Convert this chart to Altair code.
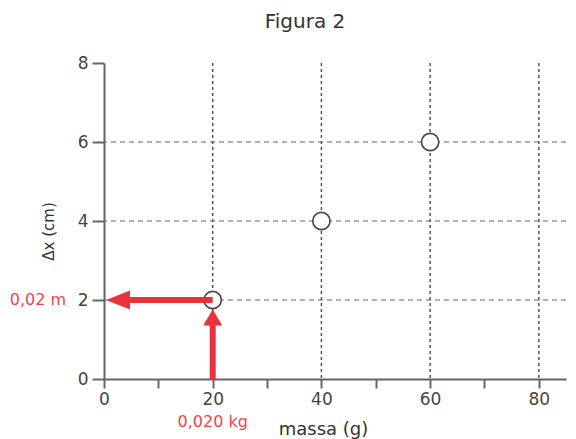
import altair as alt
import pandas as pd

# data
massa = [20, 40, 60]
dx_cm = [2, 4, 6]
grid_x = [20, 40, 60, 80]
grid_y = [2, 4, 6]
x_ticks = [0, 10, 20, 30, 40, 50, 60, 70, 80]
y_ticks = [0, 1, 2, 3, 4, 5, 6, 7, 8]
# arrow shafts (data units)
shaft_x = [20, 20]
shaft_x2 = [20, 4.5]
shaft_y = [0, 2]
shaft_y2 = [1.45, 2]
# arrow heads
head_up = {"x": [20], "y": [1.56]}
head_left = {"x": [2.58], "y": [2]}
labels_txt = ["0,02 m", "0,020 kg"]

RED = "#e8323c"
LRED = "#ee4452"
FONT = "DejaVu Sans"

xs = alt.Scale(domain=[0, 85], nice=False, zero=True)
ys = alt.Scale(domain=[0, 8], nice=False, zero=True)

xaxis = alt.Axis(values=x_ticks, labelExpr="datum.value % 20 == 0 ? datum.label : ''",
                 grid=False, tickSize=9, tickWidth=2, tickColor="#666", domainColor="#666",
                 domainWidth=2, labelFont=FONT, labelFontSize=17, labelColor="#444",
                 labelPadding=3, labelFlush=False, labelOverlap=False,
                 title="massa (g)", titleFont=FONT, titleFontSize=18, titleFontWeight="normal",
                 titleColor="#333", titleX=219, titleY=50, titleAlign="center",
                 titleBaseline="middle")
yaxis = alt.Axis(values=y_ticks, labelExpr="datum.value % 2 == 0 ? datum.label : ''",
                 grid=False, tickSize=12, tickWidth=2, tickColor="#666", domainColor="#666",
                 domainWidth=2, labelFont=FONT, labelFontSize=17, labelColor="#444",
                 labelPadding=4, labelFlush=False, labelOverlap=False,
                 title="Δx (cm)", titleFont=FONT, titleFontSize=15, titleFontWeight="normal",
                 titleColor="#333", titleX=-56, titleY=168, titleAlign="center",
                 titleBaseline="middle")

pts = pd.DataFrame({"massa": massa, "dx": dx_cm})

base = alt.Chart(pts).mark_point(opacity=0).encode(
    x=alt.X("massa:Q", scale=xs, axis=xaxis),
    y=alt.Y("dx:Q", scale=ys, axis=yaxis),
)

vgrid = alt.Chart(pd.DataFrame({"x": grid_x})).mark_rule(
    strokeDash=[3, 3], color="#555", strokeWidth=1.5
).encode(x=alt.X("x:Q", scale=xs))
hgrid = alt.Chart(pd.DataFrame({"y": grid_y})).mark_rule(
    strokeDash=[5, 4], color="#666", strokeWidth=1.2
).encode(y=alt.Y("y:Q", scale=ys))

circles = alt.Chart(pts).mark_circle(
    color="white", stroke="#444", strokeWidth=1.6, size=300, opacity=1
).encode(x=alt.X("massa:Q", scale=xs), y=alt.Y("dx:Q", scale=ys))

shafts = alt.Chart(pd.DataFrame({"x": shaft_x, "x2": shaft_x2, "y": shaft_y, "y2": shaft_y2})).mark_rule(
    color=RED, strokeWidth=6
).encode(x=alt.X("x:Q", scale=xs), x2="x2:Q", y=alt.Y("y:Q", scale=ys), y2="y2:Q")

hu = alt.Chart(pd.DataFrame(head_up)).mark_point(
    shape="M0,-0.85L1,0.85L-1,0.85Z", filled=True, color=RED, size=361, opacity=1
).encode(x=alt.X("x:Q", scale=xs), y=alt.Y("y:Q", scale=ys))
hl = alt.Chart(pd.DataFrame(head_left)).mark_point(
    shape="M-1.26,0L1.26,-1L1.26,1Z", filled=True, color=RED, size=361, opacity=1
).encode(x=alt.X("x:Q", scale=xs), y=alt.Y("y:Q", scale=ys))

lab_m = alt.Chart(pd.DataFrame({"x": [0], "y": [2], "t": [labels_txt[0]]})).mark_text(
    align="right", baseline="middle", dx=-38, color=LRED, font=FONT, fontSize=16
).encode(x=alt.X("x:Q", scale=xs), y=alt.Y("y:Q", scale=ys), text="t:N")
lab_kg = alt.Chart(pd.DataFrame({"x": [20], "y": [0], "t": [labels_txt[1]]})).mark_text(
    align="center", baseline="middle", dy=43, color=LRED, font=FONT, fontSize=16
).encode(x=alt.X("x:Q", scale=xs), y=alt.Y("y:Q", scale=ys), text="t:N")

chart = alt.layer(base, vgrid, hgrid, circles, shafts, hu, hl, lab_m, lab_kg).properties(
    width=462, height=316,
    title=alt.TitleParams("Figura 2", font=FONT, fontSize=20, fontWeight="normal",
                          color="#333", dx=-30, offset=22),
    autosize=alt.AutoSizeParams(type="none"),
    padding={"left": 96, "top": 55, "right": 2, "bottom": 60},
).configure_view(stroke=None)

chart.save("out.html", embed_options={"renderer": "svg", "actions": False})
